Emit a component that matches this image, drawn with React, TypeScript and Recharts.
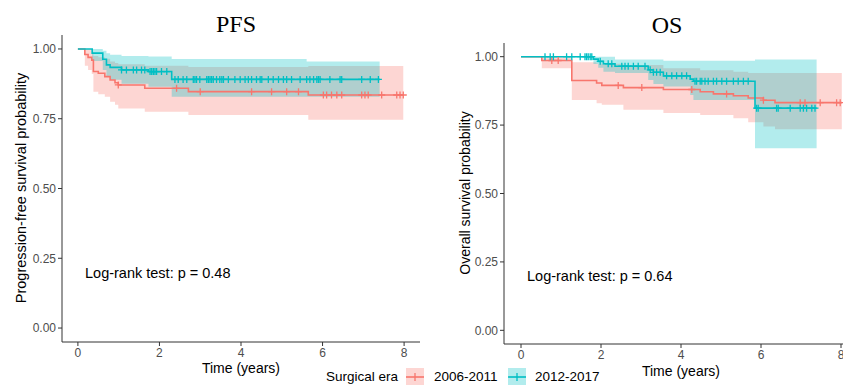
import React from 'react';
import { ComposedChart, Area, Line, Scatter, XAxis, YAxis } from 'recharts';

const RED = '#F8766D';
const TEAL = '#00BFC4';
const SANS = '"Liberation Sans", Arial, Helvetica, sans-serif';
const SERIF = '"Liberation Serif", "Times New Roman", serif';

const xTicks = [0, 2, 4, 6, 8];
const yTicks = [0, 0.25, 0.5, 0.75, 1];

// PFS, 2006-2011
const pfsEarlyTime = [0, 0.17, 0.25, 0.34, 0.38, 0.5, 0.66, 0.79, 0.91, 0.99, 1.64, 2.71, 5.65, 7.98];
const pfsEarlySurv = [1, 0.98, 0.97, 0.96, 0.919, 0.913, 0.901, 0.889, 0.879, 0.871, 0.859, 0.847, 0.835, 0.835];
const pfsEarlyLow = [1, 0.94, 0.925, 0.91, 0.847, 0.838, 0.829, 0.811, 0.8, 0.787, 0.775, 0.763, 0.746, 0.746];
const pfsEarlyHigh = [1, 1, 1, 0.99, 0.975, 0.97, 0.965, 0.955, 0.95, 0.945, 0.94, 0.935, 0.939, 0.939];
const pfsEarlyCensor = [0.99, 2.42, 3.0, 4.26, 4.75, 5.12, 5.41, 6.02, 6.1, 6.22, 6.35, 6.47, 6.96, 7.04, 7.12, 7.45, 7.82, 7.9, 7.98];

// PFS, 2012-2017
const pfsLateTime = [0, 0.35, 0.61, 0.7, 0.79, 1.07, 1.73, 2.3, 5.61, 7.4];
const pfsLateSurv = [1, 0.985, 0.963, 0.943, 0.934, 0.925, 0.919, 0.891, 0.891, 0.891];
const pfsLateLow = [1, 0.957, 0.925, 0.9, 0.89, 0.875, 0.865, 0.829, 0.829, 0.829];
const pfsLateHigh = [1, 1, 0.994, 0.985, 0.979, 0.975, 0.973, 0.964, 0.955, 0.955];
const pfsLateCensor = [
  1.07, 1.19, 1.36, 1.44, 1.56, 1.64, 1.77, 1.81, 1.85, 1.89, 1.93, 2.05, 2.18,
  2.38, 2.46, 2.58, 2.67, 2.83, 2.87, 2.91, 2.99, 3.16, 3.2, 3.24, 3.28, 3.32, 3.4, 3.48, 3.53, 3.57,
  3.69, 3.85, 3.98, 4.1, 4.18, 4.26, 4.38, 4.47, 4.51, 4.67, 4.79, 4.92, 5.04, 5.12, 5.24, 5.45,
  5.61, 5.69, 5.78, 5.86, 5.9, 5.94, 6.18, 6.43, 6.47, 6.96, 7.17, 7.37,
];

// OS, 2006-2011
const osEarlyTime = [0, 0.52, 1.27, 1.89, 2.02, 2.56, 3.56, 4.48, 4.81, 5.31, 5.68, 6.06, 6.35, 8.02];
const osEarlySurv = [1, 0.986, 0.913, 0.904, 0.895, 0.887, 0.88, 0.872, 0.864, 0.857, 0.849, 0.841, 0.832, 0.832];
const osEarlyLow = [1, 0.958, 0.842, 0.83, 0.824, 0.806, 0.794, 0.787, 0.787, 0.775, 0.76, 0.745, 0.735, 0.735];
const osEarlyHigh = [1, 1, 0.98, 0.975, 0.974, 0.97, 0.958, 0.95, 0.95, 0.945, 0.94, 0.94, 0.94, 0.94];
const osEarlyCensor = [0.77, 0.93, 2.43, 3.02, 4.27, 5.14, 6.06, 6.98, 7.1, 7.48, 7.89, 7.98];

// OS, 2012-2017
const osLateTime = [0, 1.81, 1.93, 2.06, 2.35, 3.18, 3.31, 3.56, 4.23, 4.31, 5.85, 7.39];
const osLateSurv = [1, 0.991, 0.983, 0.974, 0.965, 0.952, 0.943, 0.93, 0.918, 0.91, 0.812, 0.812];
const osLateLow = [1, 0.973, 0.96, 0.945, 0.94, 0.915, 0.9, 0.891, 0.86, 0.842, 0.665, 0.665];
const osLateHigh = [1, 1, 1, 1, 0.99, 0.99, 0.99, 0.985, 0.985, 0.985, 0.99, 0.99];
const osLateCensor = [
  0.6, 0.73, 0.81, 1.14, 1.27, 1.48, 1.6, 1.64, 1.68, 1.73, 1.77, 1.98, 2.18, 2.27,
  2.52, 2.6, 2.68, 2.81, 2.93, 3.1, 3.23, 3.31, 3.39, 3.48, 3.64, 3.77, 3.89, 4.02, 4.14,
  4.35, 4.39, 4.48, 4.52, 4.6, 4.68, 4.81, 4.89, 5.02, 5.14, 5.31, 5.43, 5.56, 5.68,
  5.89, 5.93, 6.39, 6.43, 6.73, 6.98, 7.06, 7.14, 7.27, 7.35,
];

type Row = { t: number; s: number; band?: [number, number] };

const curveRows = (time: number[], surv: number[], low: number[], high: number[]): Row[] =>
  time.map((t, i) => ({ t, s: surv[i], band: [low[i], high[i]] }));

// censor mark sits on the step curve at its time
const censorRows = (time: number[], surv: number[], censor: number[]): Row[] =>
  censor.map((t) => {
    let s = surv[0];
    time.forEach((tt, i) => {
      if (tt <= t) s = surv[i];
    });
    return { t, s };
  });

const plus = (color: string) => (props: any) => {
  const { cx, cy } = props;
  if (cx == null || cy == null) return <g />;
  return (
    <path
      d={`M${cx - 3.5},${cy}H${cx + 3.5}M${cx},${cy - 3.5}V${cy + 3.5}`}
      stroke={color}
      strokeWidth={1.3}
      fill="none"
    />
  );
};

type Group = { color: string; rows: Row[]; censor: Row[] };

interface PanelProps {
  left: number;
  top: number;
  width: number;
  height: number;
  margin: { top: number; right: number; bottom: number; left: number };
  xDomain: [number, number];
  groups: Group[];
}

const Panel: React.FC<PanelProps> = ({ left, top, width, height, margin, xDomain, groups }) => (
  <div style={{ position: 'absolute', left, top }}>
    <ComposedChart width={width} height={height} margin={margin}>
      <XAxis
        type="number"
        dataKey="t"
        domain={xDomain}
        ticks={xTicks}
        allowDataOverflow
        height={30}
        tickSize={4}
        tickMargin={2}
        axisLine={{ stroke: '#333', strokeWidth: 1 }}
        tickLine={{ stroke: '#333' }}
        tick={{ fill: '#4D4D4D', fontSize: 12, fontFamily: SANS }}
      />
      <YAxis
        type="number"
        domain={[-0.05, 1.05]}
        ticks={yTicks}
        allowDataOverflow
        width={62}
        tickSize={4}
        tickMargin={2}
        tickFormatter={(v: number) => v.toFixed(2)}
        axisLine={{ stroke: '#333', strokeWidth: 1 }}
        tickLine={{ stroke: '#333' }}
        tick={{ fill: '#4D4D4D', fontSize: 12, fontFamily: SANS }}
      />
      {groups.map((g, i) => (
        <Area
          key={'a' + i}
          data={g.rows}
          dataKey="band"
          type="stepAfter"
          stroke="none"
          fill={g.color}
          fillOpacity={0.3}
          isAnimationActive={false}
        />
      ))}
      {groups.map((g, i) => (
        <Line
          key={'l' + i}
          data={g.rows}
          dataKey="s"
          type="stepAfter"
          stroke={g.color}
          strokeWidth={1.6}
          dot={false}
          isAnimationActive={false}
        />
      ))}
      {groups.map((g, i) => (
        <Scatter
          key={'s' + i}
          data={g.censor}
          dataKey="s"
          shape={plus(g.color)}
          isAnimationActive={false}
        />
      ))}
    </ComposedChart>
  </div>
);

const Swatch: React.FC<{ color: string; left: number }> = ({ color, left }) => (
  <svg style={{ position: 'absolute', left, top: 368 }} width={18} height={18}>
    <rect x={0} y={0} width={18} height={18} fill={color} fillOpacity={0.3} />
    <line x1={0} y1={9} x2={18} y2={9} stroke={color} strokeWidth={1.6} />
    <line x1={9} y1={5} x2={9} y2={13} stroke={color} strokeWidth={1.3} />
  </svg>
);

const text = (content: string, style: React.CSSProperties) => (
  <div style={{ position: 'absolute', whiteSpace: 'nowrap', fontFamily: SANS, fontSize: 14, color: '#000', lineHeight: '16px', ...style }}>
    {content}
  </div>
);

export default function App() {
  const pfsGroups: Group[] = [
    { color: RED, rows: curveRows(pfsEarlyTime, pfsEarlySurv, pfsEarlyLow, pfsEarlyHigh), censor: censorRows(pfsEarlyTime, pfsEarlySurv, pfsEarlyCensor) },
    { color: TEAL, rows: curveRows(pfsLateTime, pfsLateSurv, pfsLateLow, pfsLateHigh), censor: censorRows(pfsLateTime, pfsLateSurv, pfsLateCensor) },
  ];
  const osGroups: Group[] = [
    { color: RED, rows: curveRows(osEarlyTime, osEarlySurv, osEarlyLow, osEarlyHigh), censor: censorRows(osEarlyTime, osEarlySurv, osEarlyCensor) },
    { color: TEAL, rows: curveRows(osLateTime, osLateSurv, osLateLow, osLateHigh), censor: censorRows(osLateTime, osLateSurv, osLateCensor) },
  ];

  return (
    <div style={{ position: 'fixed', left: 0, top: 0, width: 843, height: 385, overflow: 'hidden', background: '#fff' }}>
      <Panel
        left={0}
        top={0}
        width={430}
        height={385}
        margin={{ top: 35, right: 10, bottom: 13, left: 0 }}
        xDomain={[-0.39, 8.39]}
        groups={pfsGroups}
      />
      <Panel
        left={442}
        top={0}
        width={425}
        height={385}
        margin={{ top: 43, right: 10, bottom: 11, left: 0 }}
        xDomain={[-0.425, 8.4]}
        groups={osGroups}
      />

      <div style={{ position: 'absolute', left: 186, width: 100, top: 10, textAlign: 'center', fontFamily: SERIF, fontSize: 24, lineHeight: '28px' }}>PFS</div>
      <div style={{ position: 'absolute', left: 617, width: 100, top: 11, textAlign: 'center', fontFamily: SERIF, fontSize: 24, lineHeight: '28px' }}>OS</div>

      {text('Progression-free survival probability', { left: 21, top: 188, transform: 'translate(-50%, -50%) rotate(-90deg)', fontSize: 14.5 })}
      {text('Overall survival probability', { left: 465, top: 193, transform: 'translate(-50%, -50%) rotate(-90deg)' })}

      {text('Time (years)', { left: 241, top: 368, transform: 'translate(-50%, -50%)' })}
      {text('Time (years)', { left: 681, top: 371, transform: 'translate(-50%, -50%)' })}

      {text('Log-rank test: p = 0.48', { left: 85, top: 265, fontSize: 14.5 })}
      {text('Log-rank test: p = 0.64', { left: 527, top: 268, fontSize: 14.5 })}

      {text('Surgical era', { left: 326, top: 369, fontSize: 13.5 })}
      <Swatch color={RED} left={406} />
      {text('2006-2011', { left: 434, top: 369, fontSize: 13.5 })}
      <Swatch color={TEAL} left={508} />
      {text('2012-2017', { left: 535, top: 369, fontSize: 13.5 })}
    </div>
  );
}
